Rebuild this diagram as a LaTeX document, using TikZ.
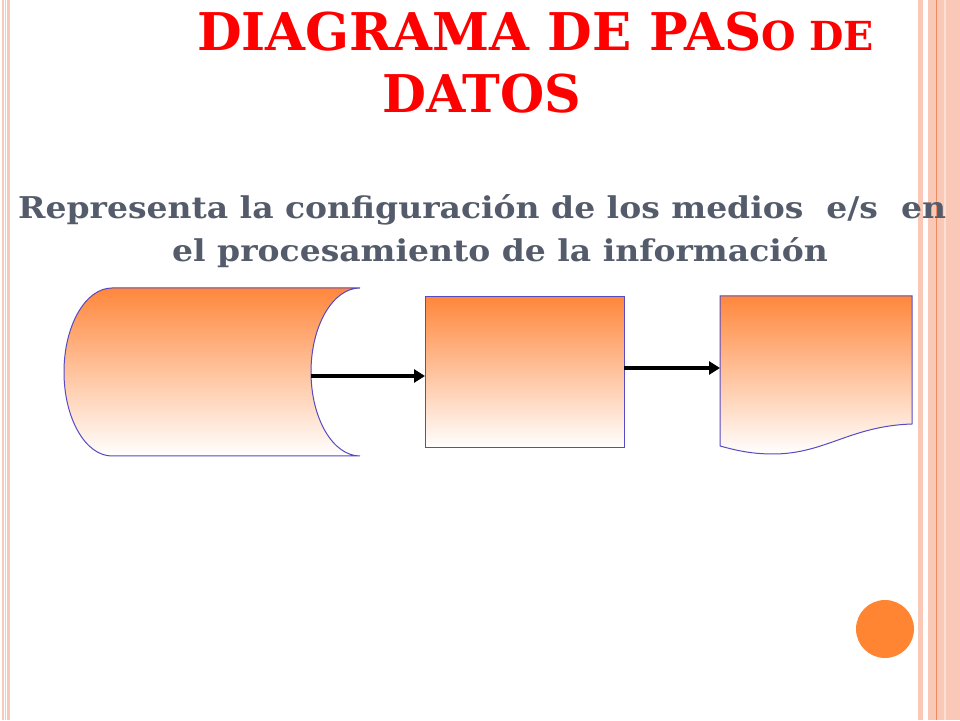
\documentclass[tikz,border=0pt]{standalone}
\usepackage{fontspec}
\setmainfont{DejaVu Serif}
\usetikzlibrary{arrows.meta}
\definecolor{orng}{RGB}{255,135,60}
\definecolor{dot}{RGB}{255,133,51}
\definecolor{pnk}{RGB}{250,200,182}
\definecolor{salm}{RGB}{238,140,95}
\definecolor{edge}{RGB}{85,75,195}
\definecolor{ttlred}{RGB}{255,0,0}
\definecolor{subgray}{RGB}{84,92,108}
\newcommand{\wide}[1]{\scalebox{1.1}[1]{#1}}
\begin{document}
\begin{tikzpicture}
[
  x=1pt, y=1pt,
	ttl/.style={anchor=base west,inner sep=0,text=ttlred,font=\bfseries\fontsize{52}{60}\selectfont},
	sub/.style={anchor=base west,inner sep=0,text=subgray,font=\bfseries\fontsize{30}{36}\selectfont},
	shp/.style={draw=edge,line width=1pt,top color=orng,bottom color=white},
	box/.style={inner sep=0,outer sep=0},
	arr/.style={line width=4.5pt,-{Triangle[length=11pt,width=13pt]}},
	brd/.style={draw=none,fill=pnk}
]
\useasboundingbox (0,0) rectangle (960,720);

% slide borders
\fill[pnk] (1.5,0) rectangle (4,720);
\fill[pnk] (5,0) rectangle (6.3,720);
\fill[pnk] (7.3,0) rectangle (10,720);
\draw (918,0) rectangle (922.5,720) [brd];
\draw (928,0) rectangle (960,720) [brd];
\fill[salm] (936,0) rectangle (937.2,720);
\fill[pnk!60] (944,0) rectangle (946,720);

% title
\node[ttl] (title1) at (197,669.3) {\scalebox{0.99}[1]{DIAGRAMA DE PAS{\fontsize{40}{48}\selectfont O DE}}};
\node[ttl] (title2) at (382,607) {\scalebox{0.975}[1]{DATOS}};

% subtitle
\node[sub] (sub1) at (18,501.7) {\wide{Representa la configuración de los medios\ \ e/s\ \ en}};
\node[sub] (sub2) at (172,458) {\wide{el procesamiento de la información}};

% stored data
\node[box,minimum width=296pt,minimum height=168pt](drum) at (212,348) {};
\draw[shp] (112,432) -- (360,432) arc[start angle=90,end angle=270,x radius=49,y radius=84]
  -- (112,264) arc[start angle=270,end angle=90,x radius=48,y radius=84] -- cycle;
\coordinate (drumout) at (311,344);

% process
\node[box,shp,minimum width=199pt,minimum height=151pt](proc) at (524.5,347.5) {};

% document
\node[box,minimum width=192pt,minimum height=150pt](doc) at (816,349) {};
\draw[shp] (720,424) -- (912,424) -- (912,296)
  .. controls (850,294) and (825,266) .. (773,266)
  .. controls (750,266) and (735,270) .. (720,274) -- cycle;

% flow
\draw[arr] (drumout) -- (drumout -| proc.west);
\draw[arr] ([yshift=4.5]proc.east) -- ([yshift=4.5]proc.east -| doc.west);

\fill[dot] (885,91) circle (29);

\end{tikzpicture}
\end{document}
